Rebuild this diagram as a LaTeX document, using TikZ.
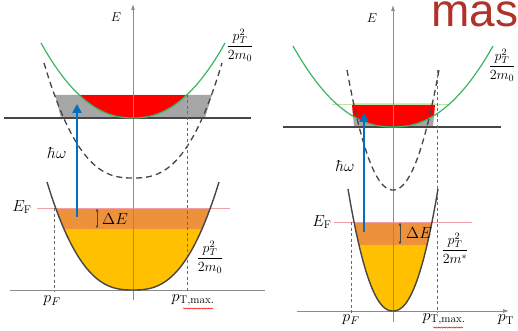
\RequirePackage{fix-cm}
\documentclass[tikz,border=0pt]{standalone}
\usepackage{fontspec}
\newfontfamily\arialf{Liberation Sans}
\usetikzlibrary{arrows.meta,decorations.pathmorphing}
\definecolor{gcurve}{RGB}{60,180,100}
\definecolor{grayfill}{RGB}{166,166,166}
\definecolor{redfill}{RGB}{255,0,0}
\definecolor{orangeband}{RGB}{237,145,58}
\definecolor{yellowfill}{RGB}{255,192,0}
\definecolor{bluearrow}{RGB}{0,112,192}
\definecolor{pinkline}{RGB}{240,160,165}
\definecolor{darkline}{RGB}{70,70,70}
\definecolor{axisgray}{RGB}{140,140,140}
\definecolor{masred}{RGB}{176,50,42}
\definecolor{lightgreen}{RGB}{190,228,170}
\tikzset{
  axisline/.style={axisgray, line width=0.8pt},
  levelline/.style={darkline, line width=1.6pt},
  fermiline/.style={pinkline, line width=1pt},
  greencurve/.style={gcurve, line width=1.2pt},
  dashcurve/.style={darkline, line width=1.3pt, dash pattern=on 6pt off 4pt},
  vdash/.style={darkline!80, line width=0.8pt, dash pattern=on 3pt off 2.5pt},
  solidcurve/.style={darkline, line width=1.4pt},
  photon/.style={bluearrow, line width=2.8pt, -{Triangle[length=9pt,width=9pt]}},
  gap/.style={darkline, line width=0.6pt, {Latex[length=3pt,width=3pt]}-{Latex[length=3pt,width=3pt]}},
  lbl/.style={inner sep=0pt, font=\fontsize{16}{18}\selectfont},
  fraclbl/.style={inner sep=0pt, font=\fontsize{14}{16}\selectfont},
  squiggle/.style={red, line width=0.5pt, decorate, decoration={snake, amplitude=0.6pt, segment length=2.5pt}}
}
\begin{document}
\begin{tikzpicture}[x=1pt,y=-1pt]
\useasboundingbox (0,0) rectangle (518,331);

% ---------------- LEFT PANEL ----------------
\fill[grayfill] (55,95) -- (212,95) -- (205,118) -- (61,118) -- cycle;
\begin{scope}
  \clip plot[domain=-92:92,samples=70] ({133+\x},{118-75*(abs(\x)/92+0.0001)^2.2}) -- cycle;
  \fill[redfill] (50,95) rectangle (220,119);
\end{scope}
\begin{scope}
  \clip plot[domain=-86:86,samples=70] ({133+\x},{290-108*(abs(\x)/86+0.0001)^2.6}) -- cycle;
  \fill[orangeband] (40,208) rectangle (230,229);
  \fill[yellowfill] (40,229) rectangle (230,295);
\end{scope}
\coordinate (lax0) at (133,300);
\coordinate (lax1) at (133,4);
\draw[axisline, -{Latex[length=6pt,width=4pt]}] (lax0) -- (lax1);
\coordinate (lhx0) at (10,290);
\coordinate (lhx1) at (265,290);
\draw[axisline] (lhx0) -- (lhx1);
\coordinate (llv0) at (4,118);
\coordinate (llv1) at (251,118);
\draw[levelline] (llv0) -- (llv1);
\coordinate (lef0) at (37,208);
\coordinate (lef1) at (230,208);
\draw[fermiline] (lef0) -- (lef1);
\draw[greencurve] plot[domain=-92:92,samples=70] ({133+\x},{118-75*(abs(\x)/92+0.0001)^2.2});
\draw[dashcurve] plot[domain=-89:89,samples=70] ({133+\x},{178-115*(abs(\x)/89+0.0001)^2.6});
\coordinate (lpf0) at (54,208);
\coordinate (lpf1) at (54,292);
\draw[vdash] (lpf0) -- (lpf1);
\coordinate (lpm0) at (187,95);
\coordinate (lpm1) at (187,292);
\draw[vdash] (lpm0) -- (lpm1);
\draw[solidcurve] plot[domain=-86:86,samples=70] ({133+\x},{290-108*(abs(\x)/86+0.0001)^2.6});
\coordinate (lph0) at (77,217);
\coordinate (lph1) at (77,104);
\draw[photon] (lph0) -- (lph1);
\coordinate (lde0) at (97,208.5);
\coordinate (lde1) at (97,228.5);
\draw[gap] (lde0) -- (lde1);
\node[lbl, font=\fontsize{13}{15}\selectfont] (lE) at (116,17) {$E$};
\node[lbl] (lhw) at (57,153) {$\hbar\omega$};
\node[lbl] (lEF) at (22,207) {$E_{\mathrm{F}}$};
\node[lbl] (lDE) at (115,219) {$\Delta E$};
\node[fraclbl] (lfr1) at (240,45) {$\displaystyle\frac{p_T^2}{2m_0}$};
\node[fraclbl] (lfr2) at (210,257) {$\displaystyle\frac{p_T^2}{2m_0}$};
\node[lbl] (lpF) at (52,301) {$p_F$};
\node[lbl] (lpT) at (193,300) {$p_{\mathrm{T,max.}}$};
\coordinate (lsq0) at (183,308.5);
\coordinate (lsq1) at (213,308.5);
\draw[squiggle] (lsq0) -- (lsq1);

% ---------------- RIGHT PANEL ----------------
\fill[grayfill] (352,104) -- (435,104) -- (433,127) -- (354,127) -- cycle;
\begin{scope}
  \clip (352,104) -- (435,104) -- (433,127) -- (354,127) -- cycle;
  \clip plot[domain=-100:100,samples=70] ({393+\x},{127-81*(abs(\x)/100+0.0001)^2.2}) -- cycle;
  \fill[redfill] (340,100) rectangle (450,130);
\end{scope}
\begin{scope}
  \clip plot[domain=-45:45,samples=60] ({393+\x},{311-122*(abs(\x)/45+0.0001)^2.2}) -- cycle;
  \fill[orangeband] (340,222) rectangle (450,245);
  \fill[yellowfill] (340,245) rectangle (450,315);
\end{scope}
\coordinate (rlg0) at (332,104);
\coordinate (rlg1) at (450,104);
\draw[lightgreen, line width=0.8pt] (rlg0) -- (rlg1);
\coordinate (rax0) at (393,322);
\coordinate (rax1) at (393,5);
\draw[axisline, -{Latex[length=6pt,width=4pt]}] (rax0) -- (rax1);
\coordinate (rhx0) at (297,311);
\coordinate (rhx1) at (509,311);
\draw[axisline, -{Latex[length=6pt,width=4pt]}] (rhx0) -- (rhx1);
\coordinate (rlv0) at (283,127);
\coordinate (rlv1) at (501,127);
\draw[levelline] (rlv0) -- (rlv1);
\coordinate (ref0) at (334,222);
\coordinate (ref1) at (472,222);
\draw[fermiline] (ref0) -- (ref1);
\draw[greencurve] plot[domain=-100:100,samples=70] ({393+\x},{127-81*(abs(\x)/100+0.0001)^2.2});
\draw[dashcurve] plot[domain=-46:46,samples=60] ({393+\x},{190-120*(abs(\x)/46+0.0001)^2.1});
\coordinate (rpf0) at (351,222);
\coordinate (rpf1) at (351,313);
\draw[vdash] (rpf0) -- (rpf1);
\coordinate (rpm0) at (437,70);
\coordinate (rpm1) at (437,313);
\draw[vdash] (rpm0) -- (rpm1);
\draw[solidcurve] plot[domain=-45:45,samples=60] ({393+\x},{311-122*(abs(\x)/45+0.0001)^2.2});
\coordinate (rph0) at (364,232);
\coordinate (rph1) at (364,113);
\draw[photon] (rph0) -- (rph1);
\coordinate (rde0) at (400,222.5);
\coordinate (rde1) at (400,244.5);
\draw[gap] (rde0) -- (rde1);
\node[lbl, font=\fontsize{13}{15}\selectfont] (rE) at (372,18) {$E$};
\node[lbl] (rhw) at (345,166) {$\hbar\omega$};
\node[lbl] (rEF) at (322,222) {$E_{\mathrm{F}}$};
\node[lbl] (rDE) at (419,233) {$\Delta E$};
\node[fraclbl] (rfr1) at (502,65) {$\displaystyle\frac{p_T^2}{2m_0}$};
\node[fraclbl] (rfr2) at (455,248) {$\displaystyle\frac{p_T^2}{2m^*}$};
\node[lbl] (rpF) at (351,320) {$p_F$};
\node[lbl] (rpT) at (444,319) {$p_{\mathrm{T,max.}}$};
\node[lbl] (rpT2) at (506,320) {$p_{\mathrm{T}}$};
\coordinate (rsq0) at (433,327.5);
\coordinate (rsq1) at (463,327.5);
\draw[squiggle] (rsq0) -- (rsq1);
\node[inner sep=0pt, anchor=base west, text=masred, font=\arialf\fontsize{46}{50}\selectfont] (mas) at (431,27) {mas};
\end{tikzpicture}
\end{document}
